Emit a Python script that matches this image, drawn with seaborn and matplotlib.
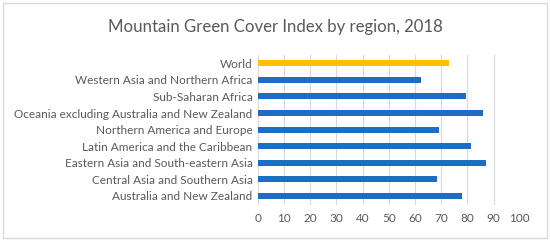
import matplotlib
matplotlib.use("Agg")
import matplotlib.pyplot as plt
import seaborn as sns
import pandas as pd
from matplotlib.patches import Rectangle

regions = [
    "World",
    "Western Asia and Northern Africa",
    "Sub-Saharan Africa",
    "Oceania excluding Australia and New Zealand",
    "Northern America and Europe",
    "Latin America and the Caribbean",
    "Eastern Asia and South-eastern Asia",
    "Central Asia and Southern Asia",
    "Australia and New Zealand",
]
values = [73.0, 62.4, 79.5, 85.9, 69.2, 81.5, 87.0, 68.3, 78.0]
xticks = [0, 10, 20, 30, 40, 50, 60, 70, 80, 90, 100]

df = pd.DataFrame({"region": regions, "value": values})

sns.set_theme(style="white")
plt.rcParams["font.family"] = ["Lato", "DejaVu Sans"]

fig = plt.figure(figsize=(5.5, 2.41), dpi=100)
ax = fig.add_axes([0.469, 0.149, 0.476, 0.623])

palette = ["#FFC000"] + ["#1F6CC4"] * (len(regions) - 1)
sns.barplot(data=df, x="value", y="region", hue="region", palette=palette,
            order=regions, width=0.36, legend=False, ax=ax, edgecolor="none",
            saturation=1, zorder=3)

ax.set_xlim(0, 100)
ax.set_ylim(8.55, -0.5)
ax.set_xticks(xticks)
ax.set_xticklabels([str(t) for t in xticks])
ax.xaxis.grid(True, color="#D9D9D9", linewidth=0.8, zorder=0)
ax.yaxis.grid(False)
for s in ax.spines.values():
    s.set_visible(False)
ax.tick_params(axis="both", length=0, labelsize=8.5, colors="#595959", pad=6)
ax.tick_params(axis="y", pad=4)
ax.set_xlabel("")
ax.set_ylabel("")

fig.text(0.5, 0.888, "Mountain Green Cover Index by region, 2018",
         ha="center", va="center", fontsize=12.1, color="#595959")

fig.patches.append(Rectangle((0.006, 0.012), 0.988, 0.976, transform=fig.transFigure,
                             fill=False, edgecolor="#D9D9D9", linewidth=1))

fig.savefig("out.png", dpi=100)
